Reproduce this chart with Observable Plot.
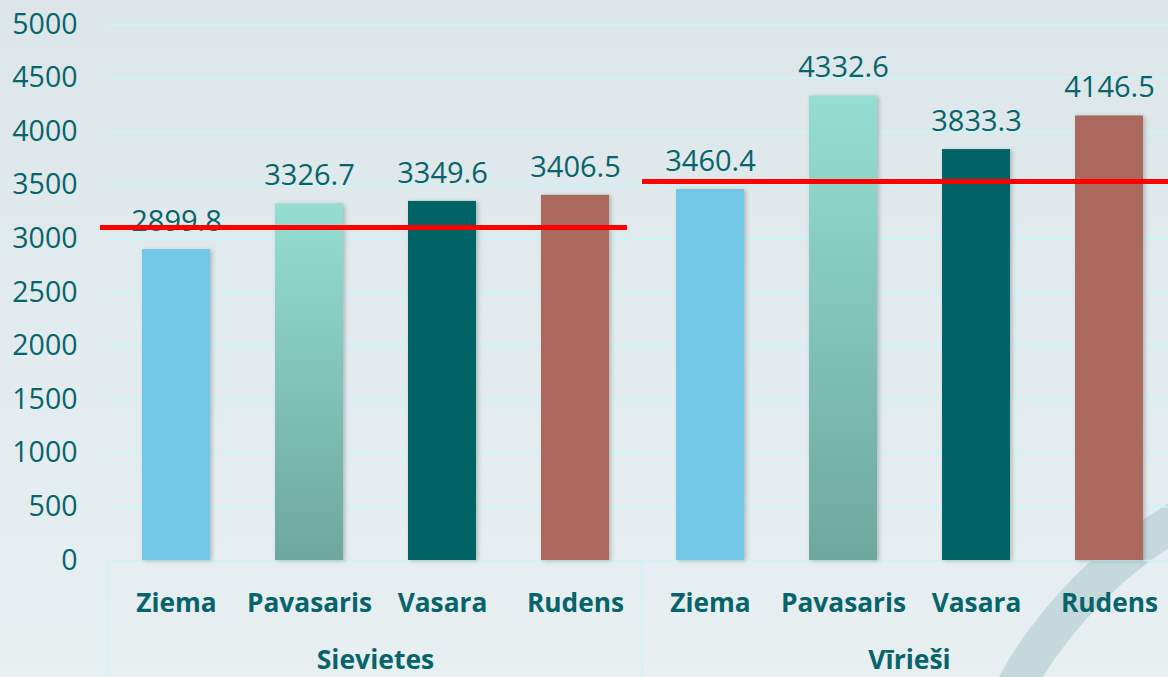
<!DOCTYPE html>
<html>
<head>
<meta charset="utf-8">
<script src="https://cdn.jsdelivr.net/npm/d3@7"></script>
<script src="https://cdn.jsdelivr.net/npm/@observablehq/plot@0.6"></script>
<style>
  html, body { margin: 0; padding: 0; width: 1168px; height: 677px; overflow: hidden;
    background: linear-gradient(180deg, #dce6e9 0%, #e2ebee 50%, #e7eff1 100%); }
  #deco { position: absolute; left: 0; top: 0; z-index: 0; }
  #chart { position: absolute; left: 0; top: 0; z-index: 1; width: 1176px; }
</style>
</head>
<body>
<svg id="deco" width="1168" height="677"><circle cx="1400" cy="900" r="440" fill="none" stroke="#c5d9dd" stroke-width="38"/></svg>
<div id="chart"></div>
<script>
const groups = ["Sievietes", "Vīrieši"];
const seasons = ["Ziema", "Pavasaris", "Vasara", "Rudens"];
const womenValues = [2899.8, 3326.7, 3349.6, 3406.5];
const menValues = [3460.4, 4332.6, 3833.3, 4146.5];
const referenceLines = [3106, 3535];
const yTicks = [0, 500, 1000, 1500, 2000, 2500, 3000, 3500, 4000, 4500, 5000];
const seasonColors = ["#72c6e6", "url(#pavGrad)", "#006466", "#ab685d"];

const data = [
  ...seasons.map((s, i) => ({group: groups[0], season: s, value: womenValues[i]})),
  ...seasons.map((s, i) => ({group: groups[1], season: s, value: menValues[i]}))
];
const refs = groups.map((g, i) => ({group: g, value: referenceLines[i]}));

const textColor = "#07646a";

const defsMark = () => {
  const defs = d3.create("svg:defs");
  const g = defs.append("linearGradient").attr("id", "pavGrad")
    .attr("x1", 0).attr("y1", 0).attr("x2", 0).attr("y2", 1);
  g.append("stop").attr("offset", "0%").attr("stop-color", "#95ded1");
  g.append("stop").attr("offset", "100%").attr("stop-color", "#6ea89c");
  return defs.node();
};

const chart = Plot.plot({
  width: 1176,
  height: 677,
  marginTop: 24,
  marginBottom: 117,
  marginLeft: 108,
  marginRight: 0,
  style: {background: "transparent", fontFamily: "'Open Sans', sans-serif", overflow: "visible", maxWidth: "none"},
  fx: {domain: groups, padding: 0, label: null},
  x: {domain: seasons, paddingInner: 0.49, paddingOuter: 0.245, label: null},
  y: {domain: [0, 5000], label: null},
  color: {domain: seasons, range: seasonColors},
  marks: [
    defsMark,
    Plot.gridY(yTicks, {stroke: "#c6f6f8", strokeOpacity: 1, strokeWidth: 1.5}),
    Plot.barY(data, {fx: "group", x: "season", y: "value", fill: "season"}),
    Plot.text(data, {fx: "group", x: "season", y: "value", text: d => d.value.toFixed(1),
      dy: -28, fontSize: 29, fill: textColor}),
    Plot.ruleY(refs.filter(d => d.group === groups[0]), {fx: "group", y: "value", stroke: "#ff0000", strokeWidth: 5, insetLeft: -8, insetRight: 15}),
    Plot.ruleY(refs.filter(d => d.group === groups[1]), {fx: "group", y: "value", stroke: "#ff0000", strokeWidth: 5}),
    Plot.axisY(yTicks, {tickSize: 0, tickPadding: 31, fontSize: 28.5, fill: textColor, tickFormat: d3.format("d"), label: null}),
    Plot.axisX({tickSize: 0, tickPadding: 33, fontSize: 26.3, fontWeight: "bold", fill: textColor, label: null}),
    Plot.axisFx({anchor: "bottom", tickSize: 0, tickPadding: 90, fontSize: 26.5, fontWeight: "bold", fill: textColor, label: null})
  ]
});

document.getElementById("chart").appendChild(chart);

// subtle bar shadows
chart.querySelectorAll('g[aria-label="bar"] rect').forEach(r => {
  r.style.filter = "drop-shadow(2px 1px 2px rgba(0,0,0,0.22))";
});

// group separators in the category table below the axis
try {
  const fx = chart.scale("fx");
  const y = chart.scale("y");
  const y0 = y.apply(0);
  const sep = d3.select(chart).append("g").attr("aria-label", "separators");
  groups.forEach(g => {
    const x0 = fx.apply(g);
    sep.append("line").attr("x1", x0).attr("x2", x0).attr("y1", y0).attr("y2", 677)
      .attr("stroke", "#c6f6f8").attr("stroke-width", 1.5);
  });
} catch (e) { console.error(e); }
</script>
</body>
</html>
